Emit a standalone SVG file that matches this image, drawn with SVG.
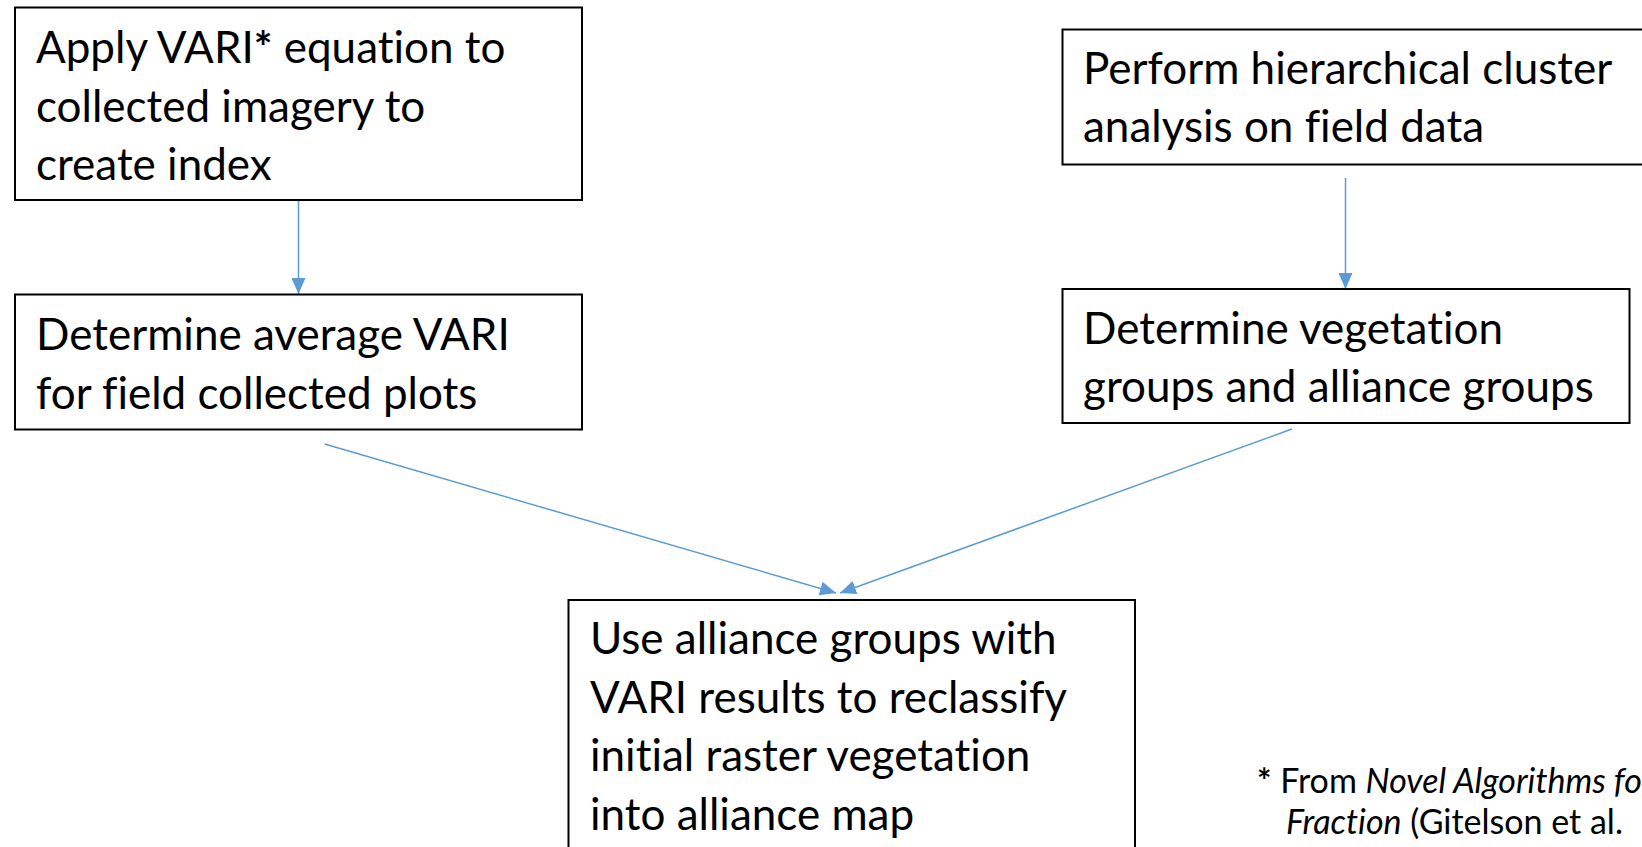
<svg xmlns="http://www.w3.org/2000/svg" width="1642" height="847" viewBox="0 0 1642 847">
<style>
.box{fill:#fff;stroke:#000;stroke-width:2}
.t{font-family:Lato,"Liberation Sans",sans-serif;font-size:44px;fill:#000;font-variant-ligatures:none}
.fn{font-family:Lato,"Liberation Sans",sans-serif;font-size:34px;fill:#000;font-variant-ligatures:none}
.c{stroke:#5B9BD5;stroke-width:1.5;fill:none}
</style>
<defs>
<marker id="ah" markerUnits="userSpaceOnUse" markerWidth="16" markerHeight="14" refX="16" refY="7" orient="auto">
<path d="M0,0 L16,7 L0,14 Z" fill="#5B9BD5"/>
</marker>
</defs>
<rect width="1642" height="847" fill="#fff"/>
<g id="connectors">
<line class="c" x1="298.5" y1="201" x2="298.5" y2="294" marker-end="url(#ah)"/>
<line class="c" x1="1345.5" y1="178" x2="1345.5" y2="289" marker-end="url(#ah)"/>
<line class="c" x1="324.6" y1="444" x2="836" y2="593" marker-end="url(#ah)"/>
<line class="c" x1="1292" y1="429" x2="840" y2="593" marker-end="url(#ah)"/>
</g>
<g id="n1">
<rect class="box" x="15" y="7.5" width="567" height="192.5"/>
<text class="t" x="36" y="63">Apply VARI<tspan font-weight="bold">*</tspan> equation to</text>
<text class="t" x="36" y="121.5">collected imagery to</text>
<text class="t" x="36" y="180">create index</text>
</g>
<g id="n2">
<rect class="box" x="15" y="294.5" width="567" height="135"/>
<text class="t" x="36" y="350">Determine average VARI</text>
<text class="t" x="36" y="408.5">for field collected plots</text>
</g>
<g id="n3">
<rect class="box" x="1062.5" y="29.5" width="600" height="135"/>
<text class="t" x="1083" y="83.5">Perform hierarchical cluster</text>
<text class="t" x="1083" y="142">analysis on field data</text>
</g>
<g id="n4">
<rect class="box" x="1062.5" y="289" width="567" height="134"/>
<text class="t" x="1083" y="343.5">Determine vegetation</text>
<text class="t" x="1083" y="402">groups and alliance groups</text>
</g>
<g id="n5">
<rect class="box" x="568.5" y="600" width="566.5" height="260"/>
<text class="t" x="590" y="654">Use alliance groups with</text>
<text class="t" x="590" y="712.5">VARI results to reclassify</text>
<text class="t" x="590" y="771">initial raster vegetation</text>
<text class="t" x="590" y="829.5">into alliance map</text>
</g>
<g id="footnote">
<text class="fn" x="1257" y="793"><tspan font-weight="bold">*</tspan> From <tspan font-style="italic">Novel Algorithms for</tspan></text>
<text class="fn" x="1286" y="834"><tspan font-style="italic">Fraction</tspan> (Gitelson et al.</text>
</g>
</svg>
